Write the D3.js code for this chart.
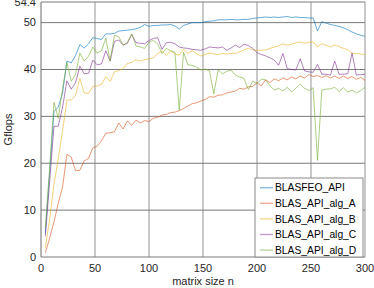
<!DOCTYPE html>
<html>
<head>
<meta charset="utf-8">
<script src="https://cdn.jsdelivr.net/npm/d3@7"></script>
<style>
    body { margin: 0; background: #fff; }
    text { font-family: "Liberation Sans", Arial, sans-serif; }
</style>
</head>
<body>
<script>
// dimensions
const width = 374;
const height = 288;

const margin = { top: 2, right: 9, bottom: 31, left: 41 };

// matrix sizes
const sizes = [4, 8, 12, 16, 20, 24, 28, 32, 36, 40, 44, 48, 52, 56, 60, 64, 68, 72, 76, 80,
    84, 88, 92, 96, 100, 104, 108, 112, 116, 120, 124, 128, 132, 136, 140, 144, 148, 152, 156, 160,
    164, 168, 172, 176, 180, 184, 188, 192, 196, 200, 204, 208, 212, 216, 220, 224, 228, 232, 236, 240,
    244, 248, 252, 256, 260, 264, 268, 272, 276, 280, 284, 288, 292, 296, 300];

// gflops per series
const blasfeoApi = [5, 18, 31, 32, 35, 41.8, 41.4, 43, 45.3, 44.6,
    45.5, 46.8, 46.6, 46.4, 47.6, 47.6, 47.7, 48.2, 48.3, 48.4,
    48.5, 48.7, 49, 49.6, 49.2, 49.4, 49.4, 49.5, 49.5, 49.6,
    49.3, 48.6, 49.4, 49.7, 50, 50, 50, 50.2, 50.3, 50.4,
    50.6, 50.6, 50.6, 50.7, 50.6, 50.6, 50.7, 50.7, 50.9, 51,
    51.1, 51.2, 51.1, 51.2, 51.1, 51.2, 51.3, 51.1, 51.2, 51.1,
    51.1, 51, 51, 48.2, 50.2, 49.9, 49.6, 49.4, 49.2, 48.9,
    48.5, 48, 47.6, 47.3, 47.1];
const algA = [0.9, 4, 7.5, 11.5, 15, 21.9, 21.3, 18.4, 18.5, 20.5,
    21, 23.3, 23.6, 24.8, 26.4, 26.5, 26.7, 28.6, 27.3, 29,
    28.1, 29.2, 28.6, 29.1, 28.9, 29.6, 29.8, 30.3, 30.4, 30.8,
    30.9, 31.2, 31.7, 32.2, 32.7, 32.9, 33.3, 33.6, 34.2, 34.1,
    34.5, 34.6, 35, 35.2, 35.4, 36, 35.8, 36.3, 36.4, 37.2,
    36.5, 37.8, 37.2, 38, 37.6, 38.2, 37.8, 38.4, 38, 38.6,
    38.2, 38.9, 38.5, 38.7, 38.3, 38.7, 38.2, 38.6, 38.1, 38.6,
    38.1, 38.5, 37.9, 38.3, 37.7];
const algB = [2, 8, 15.5, 21, 27, 33.5, 33.5, 34.5, 38.1, 35,
    34.9, 36.4, 36.5, 36.8, 38.5, 37.5, 39.5, 39.8, 40.2, 41.3,
    41.5, 42.1, 41.8, 42.1, 42.3, 42.5, 43.4, 43.9, 43, 44,
    43.3, 43.1, 44.3, 43.5, 44, 43.4, 42.9, 43.2, 43.5, 43.3,
    43.2, 43.4, 43.3, 43.5, 43.4, 43.8, 44.2, 44.5, 44.2, 44.1,
    44.1, 44.2, 44.5, 44.8, 45, 45.5, 45.2, 45.4, 45.7, 45.9,
    45.6, 45.8, 45.9, 44.8, 45.5, 45.2, 44.8, 45.2, 44.9, 44.5,
    44.2, 43.5, 43.4, 43.3, 43.2];
const algC = [4.4, 16, 27.9, 27.9, 32, 37.6, 35.8, 37.2, 40.7, 39.1,
    39.2, 42, 41, 41.2, 44, 41.8, 46, 46.3, 45.2, 45.6,
    47.5, 45.7, 45.6, 45.5, 46.2, 46.6, 46.8, 44.3, 45.7, 45.8,
    45.5, 44.8, 44.6, 44.5, 44.3, 44.2, 44.1, 44.4, 44.8, 44.7,
    44.6, 44.8, 44.1, 44.6, 45.2, 44.7, 45.4, 45.1, 44.5, 43.6,
    43.2, 42.9, 42.5, 42, 40.9, 43.4, 40.2, 40, 39.9, 42.3,
    39.7, 39.5, 39.4, 41.1, 39, 39, 38.8, 41.8, 39, 39,
    39.1, 43.5, 38.8, 38.9, 39];
const algD = [6.2, 19, 33, 29.6, 36, 41.5, 37.5, 39, 43.5, 41.8,
    42.8, 44.8, 43.5, 44, 46.7, 41.8, 47.3, 47, 45.2, 45.8,
    47.6, 45, 44.8, 44.5, 45.8, 46.2, 45.5, 43.4, 44.5, 44,
    43.7, 31.3, 43.7, 41, 40.9, 40.5, 39.9, 40.1, 39.7, 34.8,
    39.9, 39.1, 39.6, 39.9, 38.8, 38.4, 38.1, 35.7, 37.5, 37,
    37.9, 37.8, 36.5, 35.6, 36, 35.4, 36.2, 35.2, 36, 36.9,
    36, 35.5, 36.1, 20.6, 35.6, 35.8, 35.9, 36.2, 35.3, 36.1,
    35.2, 35.6, 35, 35.5, 36.2];

const seriesNames = ["BLASFEO_API", "BLAS_API_alg_A", "BLAS_API_alg_B", "BLAS_API_alg_C", "BLAS_API_alg_D"];
const seriesColors = ["#0072bd", "#d95319", "#edb120", "#7e2f8e", "#77ac30"];

const xTicks = [0, 50, 100, 150, 200, 250, 300];
const yTicks = [0, 10, 20, 30, 40, 50, 54.4];

const allSeries = [blasfeoApi, algA, algB, algC, algD];

let svg = d3.select("body")
    .append("svg")
    .attr("width", width)
    .attr("height", height);

let x = d3.scaleLinear()
    .domain([0, 300])
    .range([margin.left, width - margin.right]);
let y = d3.scaleLinear()
    .domain([0, 54.4])
    .range([height - margin.bottom, margin.top]);

// vertical grid, light and wide
svg.append("g")
    .selectAll("line")
    .data(xTicks.slice(1))
    .enter()
    .append("line")
    .attr("x1", d => x(d))
    .attr("x2", d => x(d))
    .attr("y1", y(0))
    .attr("y2", y(54.4))
    .attr("stroke", "#c4c4c4")
    .attr("stroke-width", 1.8);

// horizontal grid, darker
svg.append("g")
    .selectAll("line")
    .data(yTicks)
    .enter()
    .append("line")
    .attr("x1", x(0))
    .attr("x2", x(300))
    .attr("y1", d => y(d))
    .attr("y2", d => y(d))
    .attr("stroke", "#7a7a7a")
    .attr("stroke-width", 1);

// left axis line
svg.append("line")
    .attr("x1", x(0)).attr("x2", x(0))
    .attr("y1", y(0)).attr("y2", y(54.4))
    .attr("stroke", "#6a6a6a");

// the lines, green on top
let line = d3.line()
    .x((d, i) => x(sizes[i]))
    .y(d => y(d));

svg.append("g")
    .selectAll("path")
    .data(allSeries)
    .enter()
    .append("path")
    .attr("d", line)
    .attr("fill", "none")
    .attr("stroke", (d, i) => seriesColors[i])
    .attr("stroke-opacity", 0.6)
    .attr("stroke-width", 1);

// tick labels
svg.append("g")
    .selectAll("text")
    .data(yTicks)
    .enter()
    .append("text")
    .attr("x", x(0) - 5)
    .attr("y", d => y(d))
    .attr("dy", "0.35em")
    .attr("text-anchor", "end")
    .attr("font-size", 11)
    .attr("fill", "#262626")
    .text(d => d);

svg.append("g")
    .selectAll("text")
    .data(xTicks)
    .enter()
    .append("text")
    .attr("x", d => x(d))
    .attr("y", y(0) + 15)
    .attr("text-anchor", "middle")
    .attr("font-size", 11)
    .attr("fill", "#262626")
    .text(d => d);

// axis titles
svg.append("text")
    .attr("x", (x(0) + x(300)) / 2)
    .attr("y", height - 3)
    .attr("text-anchor", "middle")
    .attr("font-size", 11)
    .attr("fill", "#262626")
    .text("matrix size n");

svg.append("text")
    .attr("transform", "translate(12," + (y(0) + y(54.4)) / 2 + ") rotate(-90)")
    .attr("text-anchor", "middle")
    .attr("font-size", 11)
    .attr("fill", "#262626")
    .text("Gflops");

// legend box
let legend = svg.append("g")
    .attr("transform", "translate(255,178)");

legend.append("rect")
    .attr("width", 108)
    .attr("height", 79)
    .attr("fill", "#fff")
    .attr("stroke", "#8a8a8a")
    .attr("stroke-width", 1);

let entry = legend.selectAll(".entry")
    .data(seriesNames)
    .enter()
    .append("g")
    .attr("class", "entry")
    .attr("transform", (d, i) => "translate(0," + (9.7 + i * 15.6) + ")");

entry.append("line")
    .attr("x1", 5)
    .attr("x2", 18)
    .attr("stroke", (d, i) => seriesColors[i])
    .attr("stroke-opacity", 0.45)
    .attr("stroke-width", 1.5);

entry.append("text")
    .attr("x", 20)
    .attr("dy", "0.35em")
    .attr("font-size", 10.3)
    .attr("fill", "#000")
    .text(d => d);
</script>
</body>
</html>
